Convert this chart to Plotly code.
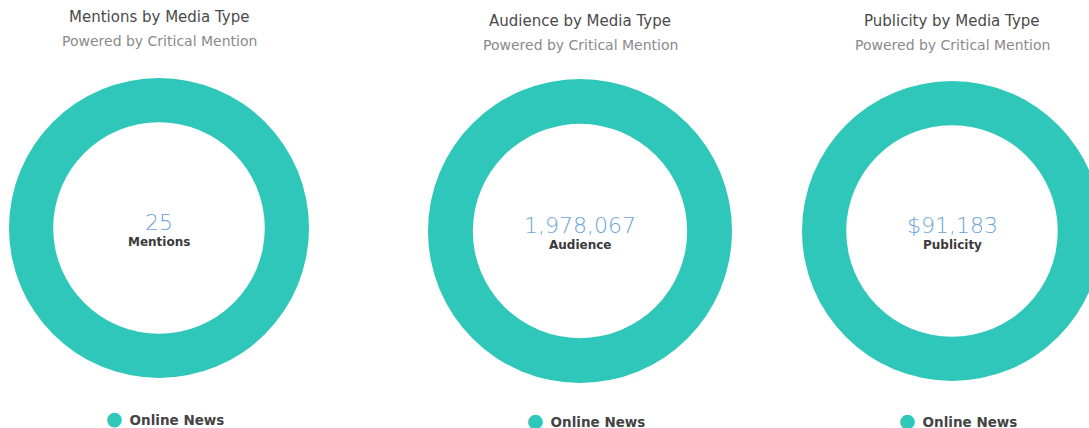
import plotly.graph_objects as go

titles = ["Mentions by Media Type", "Audience by Media Type", "Publicity by Media Type"]
subtitle = "Powered by Critical Mention"
categories = ["Online News"]
mentions = [25]
audience = [1978067]
publicity = [91183]
center_values = ["25", "1,978,067", "$91,183"]
center_labels = ["Mentions", "Audience", "Publicity"]

W, H = 1110, 428
TEAL = "#2ec7b9"
FONT = "DejaVu Sans"

# screen-pixel layout: (cx, cy, r, title_y, legend_y)
geo = [
    (159, 228, 150, 17, 418),
    (580, 231, 152, 21, 420),
    (952, 231, 150, 21, 420),
]
series = [mentions, audience, publicity]

fig = go.Figure()
ann = []
for i, (cx, cy, r, ty, ly) in enumerate(geo):
    x0 = max(0, (cx - r) / W)
    x1 = min(1, (cx + r) / W)
    y0 = (H - cy - r) / H
    y1 = (H - cy + r) / H
    fig.add_trace(go.Pie(
        labels=categories, values=series[i], hole=0.705,
        marker=dict(colors=[TEAL], line=dict(width=0)),
        textinfo="none", sort=False, showlegend=False,
        domain=dict(x=[x0, x1], y=[y0, y1]),
        hoverinfo="label+value",
    ))
    px = cx / W
    ann += [
        dict(x=px, y=1 - ty / H, text=titles[i], font=dict(size=15, color="#4a4a4a", family=FONT)),
        dict(x=px, y=1 - (ty + 24) / H, text=subtitle, font=dict(size=14, color="#8a8a8a", family=FONT)),
        dict(x=px, y=1 - (cy - 6) / H, text=center_values[i], font=dict(size=22, color="#6aa4da", family=FONT, weight=300)),
        dict(x=px, y=1 - (cy + 14) / H, text="<b>" + center_labels[i] + "</b>", font=dict(size=12, color="#3a3a3a", family=FONT)),
        dict(x=(cx + 5.7) / W, y=1 - ly / H,
             text="<span style='color:%s;font-size:19px'>●</span> \u2009<b>%s</b>" % (TEAL, categories[0]),
             font=dict(size=13.5, color="#444444", family=FONT)),
    ]
for a in ann:
    a.update(xref="paper", yref="paper", showarrow=False, xanchor="center", yanchor="middle")

fig.update_layout(
    width=W, height=H, margin=dict(l=0, r=0, t=0, b=0),
    paper_bgcolor="white", plot_bgcolor="white",
    annotations=ann, font=dict(family=FONT),
)
fig.write_html(
    "out.html",
    config={"displayModeBar": False},
    post_script="document.body.style.margin='0';document.body.style.overflow='hidden';",
)
